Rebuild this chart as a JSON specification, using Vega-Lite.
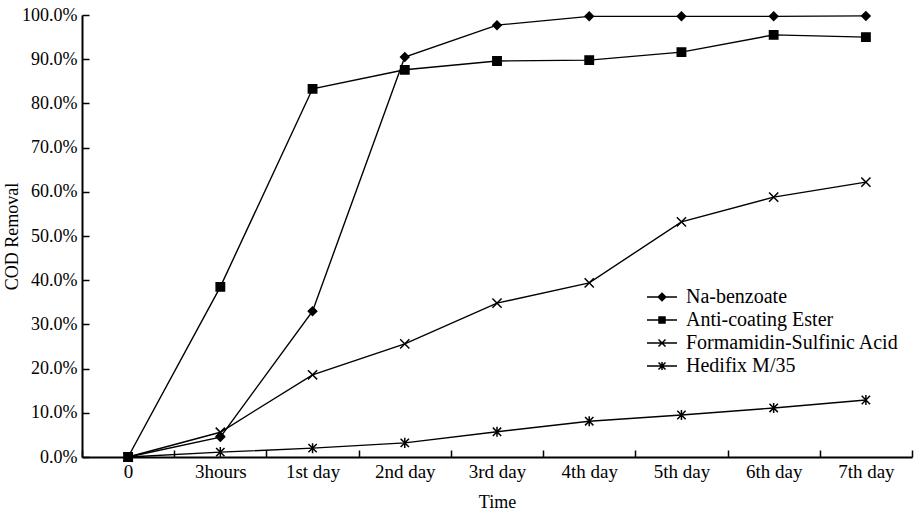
{
  "$schema": "https://vega.github.io/schema/vega-lite/v6.json",
  "width": 830,
  "height": 442,
  "autosize": "none",
  "padding": {"left": 82, "top": 15, "right": 9, "bottom": 59},
  "background": "white",
  "config": {
    "font": "Liberation Serif",
    "view": {"stroke": null},
    "axis": {
      "grid": false,
      "domainColor": "black",
      "domainWidth": 2,
      "tickColor": "black",
      "tickWidth": 1.5,
      "tickSize": -7,
      "labelColor": "black",
      "labelFont": "Liberation Serif",
      "labelFontSize": 18,
      "titleColor": "black",
      "titleFont": "Liberation Serif",
      "titleFontSize": 18,
      "titleFontWeight": "normal"
    }
  },
  "data": {
    "values": [
      {"series": "Na-benzoate", "time": "0", "value": 0},
      {"series": "Na-benzoate", "time": "3hours", "value": 0.045},
      {"series": "Na-benzoate", "time": "1st day", "value": 0.33},
      {"series": "Na-benzoate", "time": "2nd day", "value": 0.905},
      {"series": "Na-benzoate", "time": "3rd day", "value": 0.977},
      {"series": "Na-benzoate", "time": "4th day", "value": 0.997},
      {"series": "Na-benzoate", "time": "5th day", "value": 0.997},
      {"series": "Na-benzoate", "time": "6th day", "value": 0.997},
      {"series": "Na-benzoate", "time": "7th day", "value": 0.998},
      {"series": "Anti-coating Ester", "time": "0", "value": 0},
      {"series": "Anti-coating Ester", "time": "3hours", "value": 0.385},
      {"series": "Anti-coating Ester", "time": "1st day", "value": 0.833},
      {"series": "Anti-coating Ester", "time": "2nd day", "value": 0.876},
      {"series": "Anti-coating Ester", "time": "3rd day", "value": 0.896},
      {"series": "Anti-coating Ester", "time": "4th day", "value": 0.898},
      {"series": "Anti-coating Ester", "time": "5th day", "value": 0.916},
      {"series": "Anti-coating Ester", "time": "6th day", "value": 0.955},
      {"series": "Anti-coating Ester", "time": "7th day", "value": 0.95},
      {"series": "Formamidin-Sulfinic Acid", "time": "0", "value": 0},
      {"series": "Formamidin-Sulfinic Acid", "time": "3hours", "value": 0.056},
      {"series": "Formamidin-Sulfinic Acid", "time": "1st day", "value": 0.186},
      {"series": "Formamidin-Sulfinic Acid", "time": "2nd day", "value": 0.256},
      {"series": "Formamidin-Sulfinic Acid", "time": "3rd day", "value": 0.348},
      {"series": "Formamidin-Sulfinic Acid", "time": "4th day", "value": 0.394},
      {"series": "Formamidin-Sulfinic Acid", "time": "5th day", "value": 0.532},
      {"series": "Formamidin-Sulfinic Acid", "time": "6th day", "value": 0.588},
      {"series": "Formamidin-Sulfinic Acid", "time": "7th day", "value": 0.622},
      {"series": "Hedifix M/35", "time": "0", "value": 0},
      {"series": "Hedifix M/35", "time": "3hours", "value": 0.011},
      {"series": "Hedifix M/35", "time": "1st day", "value": 0.02},
      {"series": "Hedifix M/35", "time": "2nd day", "value": 0.032},
      {"series": "Hedifix M/35", "time": "3rd day", "value": 0.057},
      {"series": "Hedifix M/35", "time": "4th day", "value": 0.081},
      {"series": "Hedifix M/35", "time": "5th day", "value": 0.095},
      {"series": "Hedifix M/35", "time": "6th day", "value": 0.111},
      {"series": "Hedifix M/35", "time": "7th day", "value": 0.129}
    ]
  },
  "encoding": {
    "x": {
      "field": "time",
      "type": "ordinal",
      "sort": ["0", "3hours", "1st day", "2nd day", "3rd day", "4th day", "5th day", "6th day", "7th day"],
      "scale": {"type": "band", "paddingInner": 0, "paddingOuter": 0},
      "axis": {"title": "Time", "labelAngle": 0, "tickBand": "extent", "labelPadding": 12, "labelFontSize": 19, "titlePadding": 12}
    },
    "y": {
      "field": "value",
      "type": "quantitative",
      "scale": {"domain": [0, 1], "nice": false},
      "axis": {"title": "COD Removal", "titleFontSize": 18, "format": ".1%", "values": [0, 0.1, 0.2, 0.3, 0.4, 0.5, 0.6, 0.7, 0.8, 0.9, 1], "labelPadding": 12, "titlePadding": 0}
    }
  },
  "layer": [
    {
      "mark": {"type": "line", "color": "black", "strokeWidth": 1.4},
      "encoding": {"detail": {"field": "series", "type": "nominal"}}
    },
    {
      "mark": {"type": "point", "filled": true, "color": "black", "stroke": "black", "strokeWidth": 1.5, "size": 70, "opacity": 1},
      "encoding": {
        "shape": {
          "field": "series",
          "type": "nominal",
          "scale": {
            "domain": ["Na-benzoate", "Anti-coating Ester", "Formamidin-Sulfinic Acid", "Hedifix M/35"],
            "range": ["diamond", "square", "M-1.1,-1.1L1.1,1.1M-1.1,1.1L1.1,-1.1", "M-1,-1L1,1M-1,1L1,-1M0,-1.2L0,1.2"]
          },
          "legend": null
        }
      }
    },
    {
      "transform": [{"filter": "false"}],
      "mark": {"type": "point", "filled": false, "color": "black", "strokeWidth": 1.5, "size": 100, "opacity": 1},
      "encoding": {
        "shape": {
          "field": "series",
          "type": "nominal",
          "scale": {
            "domain": ["Na-benzoate", "Anti-coating Ester", "Formamidin-Sulfinic Acid", "Hedifix M/35"],
            "range": [
              "M-3,0L3,0M0,-0.75L0.75,0L0,0.75L-0.75,0ZM0,-0.4L0.4,0L0,0.4L-0.4,0ZM0,-0.1L0.1,0L0,0.1L-0.1,0Z",
              "M-3,0L3,0M-0.6,-0.6L0.6,-0.6L0.6,0.6L-0.6,0.6ZM-0.3,-0.3L0.3,-0.3L0.3,0.3L-0.3,0.3ZM-0.05,-0.05L0.05,-0.05L0.05,0.05L-0.05,0.05Z",
              "M-3,0L3,0M-0.7,-0.7L0.7,0.7M-0.7,0.7L0.7,-0.7",
              "M-3,0L3,0M-0.7,-0.7L0.7,0.7M-0.7,0.7L0.7,-0.7M0,-0.8L0,0.8"
            ]
          },
          "legend": {
            "title": null,
            "orient": "none",
            "legendX": 555,
            "legendY": 272,
            "symbolSize": 100,
            "symbolOffset": 15,
            "labelOffset": 14,
            "rowPadding": 3,
            "labelFont": "Liberation Serif",
            "labelFontSize": 20,
            "labelColor": "black",
            "labelLimit": 400,
            "symbolStrokeColor": "black",
            "symbolStrokeWidth": 1.5
          }
        }
      }
    }
  ],
  "resolve": {"scale": {"shape": "independent"}}
}
